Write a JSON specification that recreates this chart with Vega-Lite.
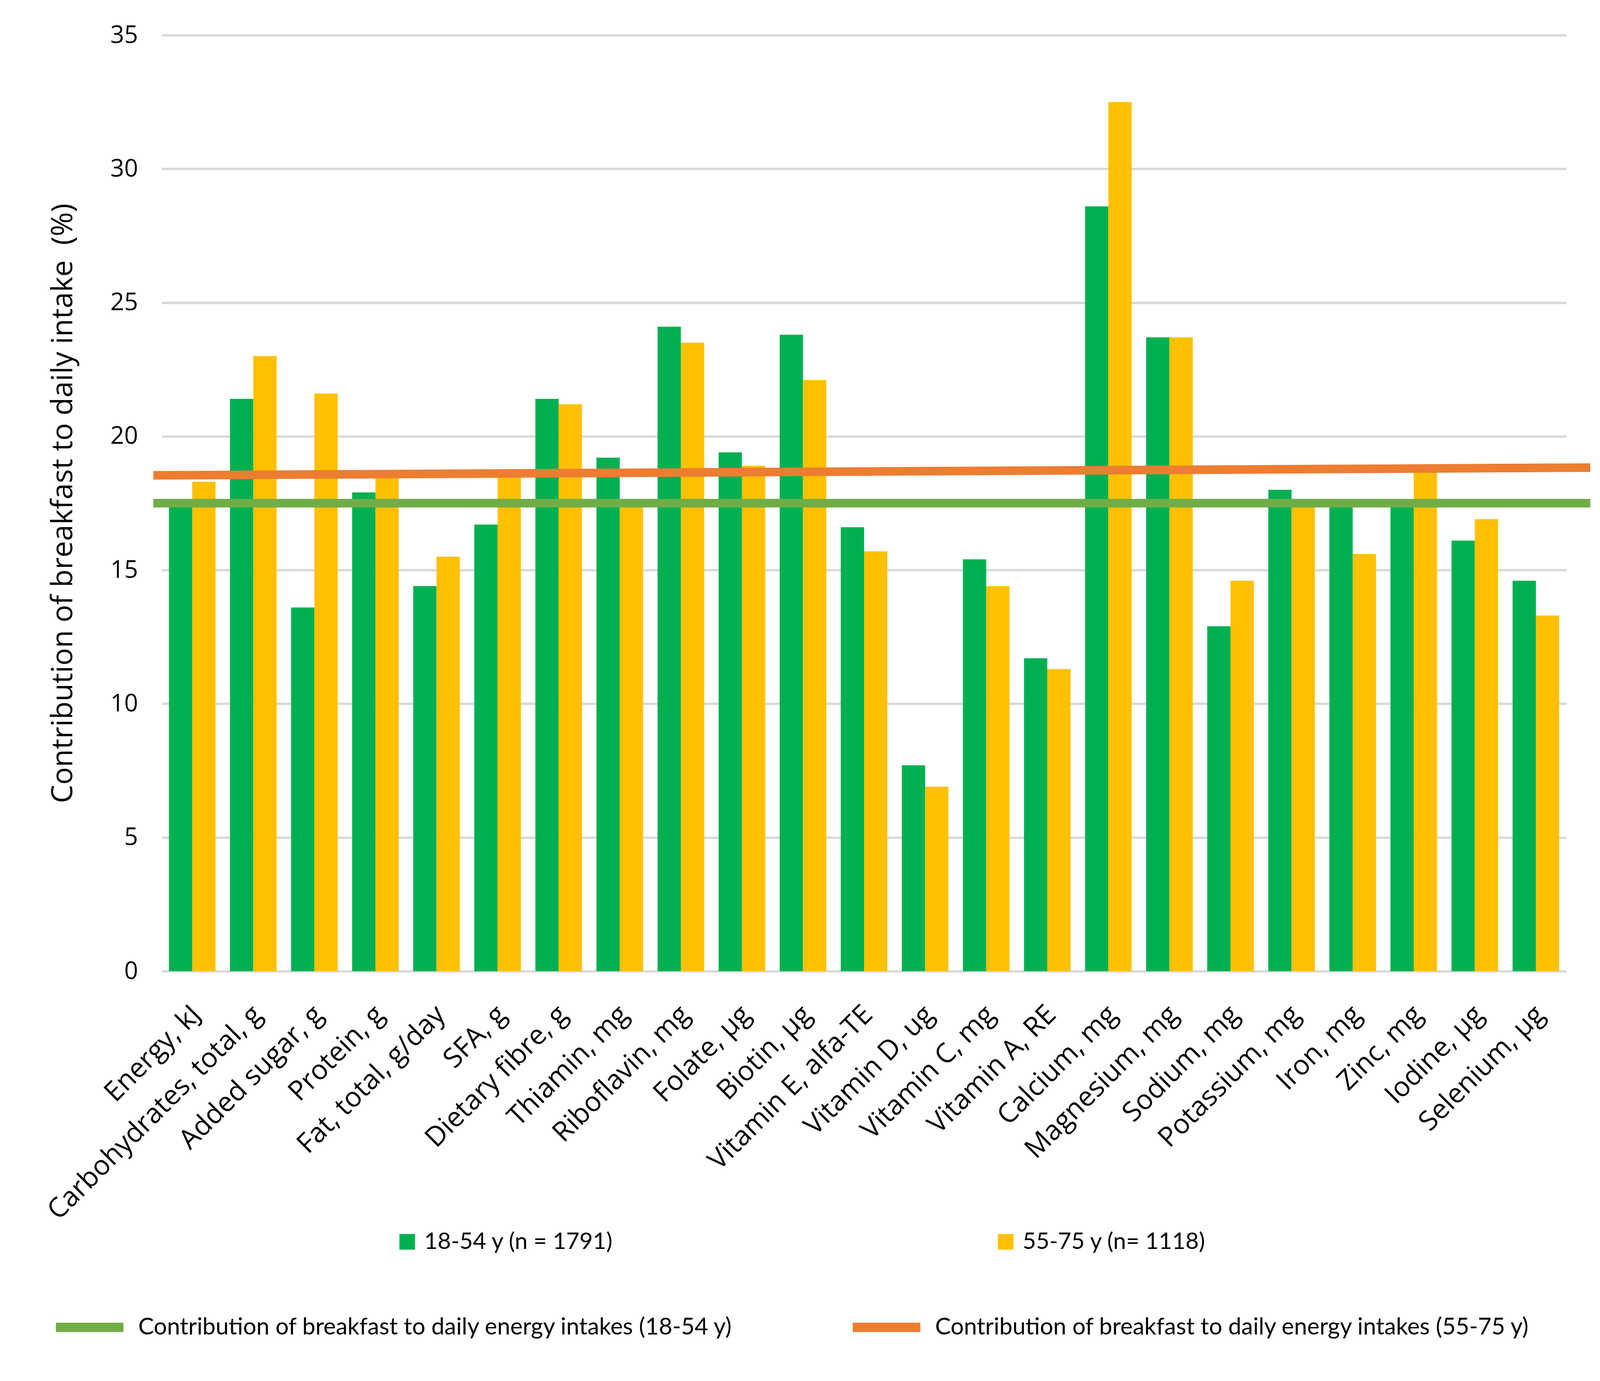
{
  "$schema": "https://vega.github.io/schema/vega-lite/v6.json",
  "width": 3596,
  "height": 2396,
  "autosize": {"type": "none"},
  "padding": {"left": 414, "top": 90, "right": 86, "bottom": 1049},
  "background": "white",
  "config": {
    "view": {"stroke": null},
    "font": "Open Sans",
    "legend": {"padding": 0, "labelColor": "black", "labelFont": "Lato"}
  },
  "datasets": {
    "bars": [
      {"nutrient": "Energy, kJ", "group": "18-54 y (n = 1791)", "value": 17.5},
      {"nutrient": "Energy, kJ", "group": "55-75 y (n= 1118)", "value": 18.3},
      {"nutrient": "Carbohydrates, total, g", "group": "18-54 y (n = 1791)", "value": 21.4},
      {"nutrient": "Carbohydrates, total, g", "group": "55-75 y (n= 1118)", "value": 23.0},
      {"nutrient": "Added sugar, g", "group": "18-54 y (n = 1791)", "value": 13.6},
      {"nutrient": "Added sugar, g", "group": "55-75 y (n= 1118)", "value": 21.6},
      {"nutrient": "Protein, g", "group": "18-54 y (n = 1791)", "value": 17.9},
      {"nutrient": "Protein, g", "group": "55-75 y (n= 1118)", "value": 18.5},
      {"nutrient": "Fat, total, g/day", "group": "18-54 y (n = 1791)", "value": 14.4},
      {"nutrient": "Fat, total, g/day", "group": "55-75 y (n= 1118)", "value": 15.5},
      {"nutrient": "SFA, g", "group": "18-54 y (n = 1791)", "value": 16.7},
      {"nutrient": "SFA, g", "group": "55-75 y (n= 1118)", "value": 18.6},
      {"nutrient": "Dietary fibre, g", "group": "18-54 y (n = 1791)", "value": 21.4},
      {"nutrient": "Dietary fibre, g", "group": "55-75 y (n= 1118)", "value": 21.2},
      {"nutrient": "Thiamin, mg", "group": "18-54 y (n = 1791)", "value": 19.2},
      {"nutrient": "Thiamin, mg", "group": "55-75 y (n= 1118)", "value": 17.6},
      {"nutrient": "Riboflavin, mg", "group": "18-54 y (n = 1791)", "value": 24.1},
      {"nutrient": "Riboflavin, mg", "group": "55-75 y (n= 1118)", "value": 23.5},
      {"nutrient": "Folate, µg", "group": "18-54 y (n = 1791)", "value": 19.4},
      {"nutrient": "Folate, µg", "group": "55-75 y (n= 1118)", "value": 18.9},
      {"nutrient": "Biotin, µg", "group": "18-54 y (n = 1791)", "value": 23.8},
      {"nutrient": "Biotin, µg", "group": "55-75 y (n= 1118)", "value": 22.1},
      {"nutrient": "Vitamin E, alfa-TE", "group": "18-54 y (n = 1791)", "value": 16.6},
      {"nutrient": "Vitamin E, alfa-TE", "group": "55-75 y (n= 1118)", "value": 15.7},
      {"nutrient": "Vitamin D, ug", "group": "18-54 y (n = 1791)", "value": 7.7},
      {"nutrient": "Vitamin D, ug", "group": "55-75 y (n= 1118)", "value": 6.9},
      {"nutrient": "Vitamin C, mg", "group": "18-54 y (n = 1791)", "value": 15.4},
      {"nutrient": "Vitamin C, mg", "group": "55-75 y (n= 1118)", "value": 14.4},
      {"nutrient": "Vitamin A, RE", "group": "18-54 y (n = 1791)", "value": 11.7},
      {"nutrient": "Vitamin A, RE", "group": "55-75 y (n= 1118)", "value": 11.3},
      {"nutrient": "Calcium, mg", "group": "18-54 y (n = 1791)", "value": 28.6},
      {"nutrient": "Calcium, mg", "group": "55-75 y (n= 1118)", "value": 32.5},
      {"nutrient": "Magnesium, mg", "group": "18-54 y (n = 1791)", "value": 23.7},
      {"nutrient": "Magnesium, mg", "group": "55-75 y (n= 1118)", "value": 23.7},
      {"nutrient": "Sodium, mg", "group": "18-54 y (n = 1791)", "value": 12.9},
      {"nutrient": "Sodium, mg", "group": "55-75 y (n= 1118)", "value": 14.6},
      {"nutrient": "Potassium, mg", "group": "18-54 y (n = 1791)", "value": 18.0},
      {"nutrient": "Potassium, mg", "group": "55-75 y (n= 1118)", "value": 17.6},
      {"nutrient": "Iron, mg", "group": "18-54 y (n = 1791)", "value": 17.6},
      {"nutrient": "Iron, mg", "group": "55-75 y (n= 1118)", "value": 15.6},
      {"nutrient": "Zinc, mg", "group": "18-54 y (n = 1791)", "value": 17.6},
      {"nutrient": "Zinc, mg", "group": "55-75 y (n= 1118)", "value": 18.8},
      {"nutrient": "Iodine, µg", "group": "18-54 y (n = 1791)", "value": 16.1},
      {"nutrient": "Iodine, µg", "group": "55-75 y (n= 1118)", "value": 16.9},
      {"nutrient": "Selenium, µg", "group": "18-54 y (n = 1791)", "value": 14.6},
      {"nutrient": "Selenium, µg", "group": "55-75 y (n= 1118)", "value": 13.3}
    ],
    "lines": [
      {"line": "Contribution of breakfast to daily energy intakes (18-54 y)", "pos": -0.6, "value": 17.5},
      {"line": "Contribution of breakfast to daily energy intakes (18-54 y)", "pos": 101.7, "value": 17.5},
      {"line": "Contribution of breakfast to daily energy intakes (55-75 y)", "pos": -0.6, "value": 18.54},
      {"line": "Contribution of breakfast to daily energy intakes (55-75 y)", "pos": 101.7, "value": 18.83}
    ]
  },
  "layer": [
    {
      "data": {"name": "bars"},
      "mark": {"type": "bar"},
      "encoding": {
        "x": {
          "field": "nutrient",
          "type": "nominal",
          "sort": null,
          "scale": {"paddingInner": 0.237, "paddingOuter": 0.118},
          "axis": {
            "title": null,
            "domain": false,
            "ticks": false,
            "labelAngle": -45,
            "labelAlign": "right",
            "labelBaseline": "middle",
            "labelFont": "Open Sans",
            "labelFontSize": 70,
            "labelColor": "black",
            "labelPadding": 100,
            "labelOffset": 11,
            "labelLimit": 2000
          }
        },
        "xOffset": {"field": "group", "type": "nominal", "scale": {"paddingInner": 0, "paddingOuter": 0}},
        "y": {
          "field": "value",
          "type": "quantitative",
          "scale": {"domain": [0, 35], "nice": false},
          "axis": {
            "title": "Contribution of breakfast to daily intake \u00a0(%)",
            "titleFont": "Open Sans",
            "titleFontSize": 75,
            "titleFontWeight": "normal",
            "titleColor": "black",
            "titlePadding": 82,
            "values": [0, 5, 10, 15, 20, 25, 30, 35],
            "format": "d",
            "domain": false,
            "ticks": false,
            "labelFont": "Open Sans",
            "labelFontSize": 62,
            "labelColor": "black",
            "labelPadding": 61,
            "grid": true,
            "gridColor": "#d9d9d9",
            "gridWidth": 6
          }
        },
        "fill": {
          "field": "group",
          "type": "nominal",
          "scale": {"domain": ["18-54 y (n = 1791)", "55-75 y (n= 1118)"], "range": ["#00B050", "#FFC000"]},
          "legend": {
            "title": null,
            "orient": "none",
            "legendX": 599,
            "legendY": 3059,
            "direction": "horizontal",
            "symbolType": "square",
            "symbolSize": 1600,
            "symbolStrokeWidth": 0,
            "labelFontSize": 59,
            "labelOffset": 14,
            "columnPadding": 974,
            "labelLimit": 3000
          }
        }
      }
    },
    {
      "data": {"name": "lines"},
      "mark": {"type": "line", "strokeWidth": 22, "clip": false},
      "encoding": {
        "x": {"field": "pos", "type": "quantitative", "scale": {"domain": [0, 100], "nice": false, "zero": false}, "axis": null},
        "y": {"field": "value", "type": "quantitative"},
        "stroke": {
          "field": "line",
          "type": "nominal",
          "scale": {"domain": ["Contribution of breakfast to daily energy intakes (18-54 y)", "Contribution of breakfast to daily energy intakes (55-75 y)"], "range": ["#70AD47", "#ED7D31"]},
          "legend": {
            "title": null,
            "orient": "none",
            "legendX": -283,
            "legendY": 3209,
            "direction": "horizontal",
            "symbolType": "stroke",
            "symbolSize": 29929,
            "symbolStrokeWidth": 24,
            "labelFontSize": 60,
            "labelOffset": 26,
            "columnPadding": 256,
            "labelLimit": 4000
          }
        }
      }
    }
  ],
  "resolve": {"scale": {"x": "independent"}}
}
